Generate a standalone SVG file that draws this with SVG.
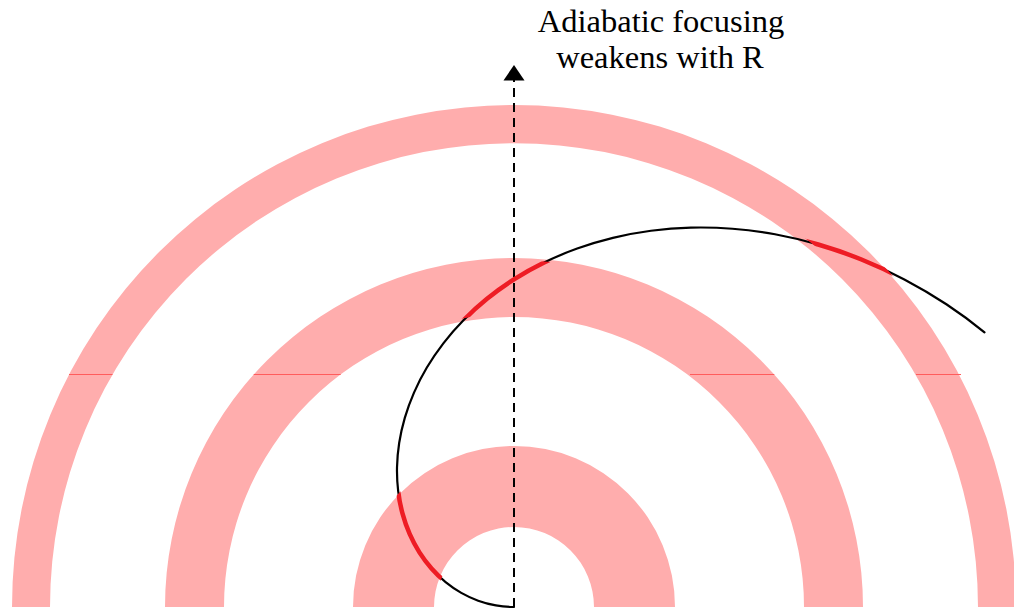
<svg xmlns="http://www.w3.org/2000/svg" width="1014" height="612" viewBox="0 0 1014 612">
  <style>
    .ring { fill: #ffadad; stroke: none; }
    .tick { stroke: #ff5c5c; stroke-width: 1; fill: none; }
    .spiral { fill: none; stroke: #000; stroke-width: 2.2; stroke-linejoin: round; stroke-linecap: round; }
    .hot { fill: none; stroke: #ee1c24; stroke-width: 4.5; }
    .axis { stroke: #000; stroke-width: 2; stroke-dasharray: 9 6; fill: none; }
    .label { font-family: "Liberation Serif", "Times New Roman", serif; font-size: 32.5px; fill: #000; text-anchor: middle; }
  </style>
  <defs>
    <path id="ring-outer-shape" d="M12,607 A502,502 0 0 1 1016,607 L978,607 A464,464 0 0 0 50,607 Z"/>
    <path id="ring-middle-shape" d="M165,607 A349,349 0 0 1 863,607 L804,607 A290,290 0 0 0 224,607 Z"/>
    <path id="ring-inner-shape" d="M353,607 A161,161 0 0 1 675,607 L594,607 A80,80 0 0 0 434,607 Z"/>
    <clipPath id="ring-clip">
      <path clip-rule="evenodd" d="M11,607 a503,503 0 1 0 1006,0 a503,503 0 1 0 -1006,0 Z M44,607 a470,470 0 1 0 940,0 a470,470 0 1 0 -940,0 Z M167,607 a347,347 0 1 0 694,0 a347,347 0 1 0 -694,0 Z M221,607 a293,293 0 1 0 586,0 a293,293 0 1 0 -586,0 Z M352,607 a162,162 0 1 0 324,0 a162,162 0 1 0 -324,0 Z M436,607 a78,78 0 1 0 156,0 a78,78 0 1 0 -156,0 Z"/>
    </clipPath>
    <path id="spiral-path" d="M514,607 C508,607 501.85,606.46 495.87,605.41 C489.90,604.36 483.92,602.77 478.15,600.68 C472.38,598.59 466.69,595.97 461.26,592.87 C455.83,589.77 450.55,586.16 445.59,582.10 C440.64,578.05 435.89,573.49 431.53,568.54 C427.17,563.59 423.08,558.17 419.43,552.40 C415.78,546.63 412.47,540.42 409.64,533.92 C406.81,527.42 404.38,520.53 402.47,513.41 C400.56,506.29 399.09,498.82 398.18,491.18 C397.27,483.54 396.85,475.62 397.01,467.59 C397.18,459.56 397.87,451.29 399.17,443.00 C400.47,434.71 402.33,426.28 404.80,417.87 C407.27,409.47 410.33,400.96 414.01,392.57 C417.69,384.19 421.97,375.77 426.86,367.56 C431.75,359.35 437.25,351.20 443.35,343.31 C449.45,335.42 456.17,327.65 463.45,320.23 C470.73,312.81 478.60,305.59 487.02,298.78 C495.45,291.98 504.48,285.45 514.00,279.40 C523.52,273.36 533.62,267.66 544.15,262.51 C554.68,257.37 565.73,252.64 577.19,248.53 C588.65,244.42 600.62,240.80 612.91,237.83 C625.20,234.87 637.94,232.44 650.94,230.74 C663.94,229.04 677.32,227.96 690.90,227.62 C704.48,227.29 718.39,227.62 732.40,228.73 C746.42,229.84 760.70,231.63 774.99,234.26 C789.29,236.89 803.76,240.32 818.17,244.53 C832.58,248.74 847.11,253.71 861.47,259.53 C875.83,265.35 890.20,271.98 904.35,279.43 C918.50,286.88 932.62,295.16 946.37,304.25 C960.12,313.35 972.50,322.50 984.50,332.30"/>
  </defs>

  <g id="ring-outer">
    <use href="#ring-outer-shape" class="ring"/>
    <line class="tick" x1="69" y1="374.5" x2="112.5" y2="374.5"/>
    <line class="tick" x1="916" y1="374.5" x2="961" y2="374.5"/>
  </g>
  <g id="ring-middle">
    <use href="#ring-middle-shape" class="ring"/>
    <line class="tick" x1="253.7" y1="374.5" x2="340.7" y2="374.5"/>
    <line class="tick" x1="690" y1="374.5" x2="774.3" y2="374.5"/>
  </g>
  <g id="ring-inner">
    <use href="#ring-inner-shape" class="ring"/>
  </g>

  <g id="connectors">
    <g id="axis">
      <path class="axis" d="M514,607 L514,80"/>
      <polygon points="503.5,80.5 524.5,80.5 514,65" fill="#000"/>
    </g>
    <use id="spiral" href="#spiral-path" class="spiral"/>
    <use id="spiral-in-rings" href="#spiral-path" class="hot" clip-path="url(#ring-clip)"/>
  </g>

  <g id="caption">
    <text class="label" x="661" y="32">Adiabatic focusing</text>
    <text class="label" x="660" y="68">weakens with R</text>
  </g>
</svg>
